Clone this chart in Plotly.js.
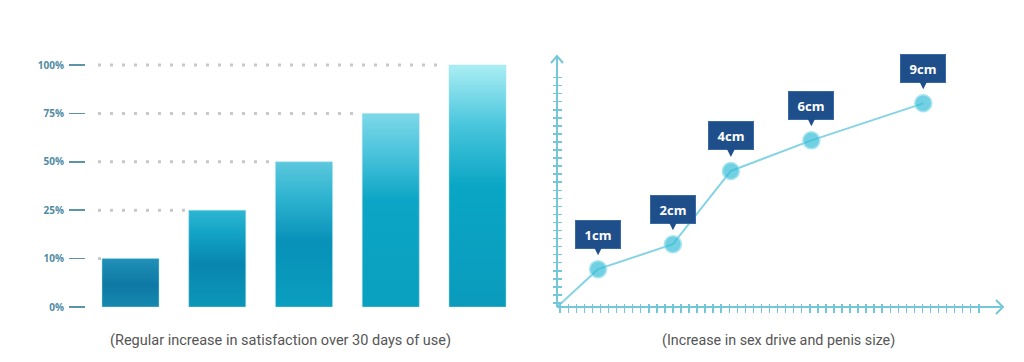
<!DOCTYPE html>
<html><head><meta charset="utf-8">
<script src="https://cdn.plot.ly/plotly-3.0.1.min.js"></script>
<style>html,body{margin:0;padding:0;background:#fff}#chart{width:1024px;height:362px}</style>
</head><body><div id="chart"></div>
<script>
// ---- data ----
const satisfactionTickLabels = ['0%','10%','25%','50%','75%','100%'];
const satisfactionTickValues = [0,10,25,50,75,100];
const satisfactionStages = ['Stage 1','Stage 2','Stage 3','Stage 4','Stage 5'];
const satisfactionValues = [10,25,50,75,100];
const growthX = [5.1,14.4,21.6,31.6,45.5];
const growthY = [4.7,7.8,16.9,20.7,25.3];
const growthLabels = ['1cm','2cm','4cm','6cm','9cm'];
const captionLeft = '(Regular increase in satisfaction over 30 days of use)';
const captionRight = '(Increase in sex drive and penis size)';

// ---- styles ----
const W = 1024, H = 362;
const px = v => v / W, py = v => (H - v) / H;
const barWidth = 0.657;
const gridStart = -0.375;
const barScales = [
  [[0,'#1589b0'],[0.45,'#0d78a4'],[1,'#2190b8']],
  [[0,'#0c96b8'],[0.45,'#0886b0'],[0.75,'#12a2c5'],[1,'#2eb6d2']],
  [[0,'#0a9ebf'],[0.45,'#0891b9'],[0.75,'#2db3d0'],[1,'#5cc8dd']],
  [[0,'#0aa0c0'],[0.55,'#0ca5c5'],[0.8,'#4cc4dc'],[1,'#7dd8e8']],
  [[0,'#0a9bbd'],[0.5,'#0aa6c5'],[0.75,'#48c5dc'],[1,'#abeef4']]
];
const axisTeal = '#74c7d8';

const posOf = v => satisfactionTickValues.indexOf(v);
const traces = [];

// dotted guide lines, each stopping at the bar that reaches it
satisfactionTickValues.forEach((v, k) => {
  if (v === 0) return;
  const barIdx = satisfactionValues.indexOf(v);
  const end = (barIdx >= 0 ? barIdx : satisfactionStages.length) - barWidth / 2 - 0.04;
  traces.push({
    type: 'scatter', mode: 'lines', xaxis: 'x', yaxis: 'y', hoverinfo: 'skip', showlegend: false,
    x: [gridStart, Math.max(end, gridStart + 0.035)], y: [posOf(v), posOf(v)],
    line: {color: '#c8c8c8', width: 3, dash: '3px,9px'}
  });
});

// bars with vertical gradients
satisfactionStages.forEach((s, i) => {
  const top = posOf(satisfactionValues[i]);
  const l = i - barWidth / 2, r = i + barWidth / 2;
  traces.push({
    type: 'scatter', mode: 'lines', xaxis: 'x', yaxis: 'y', name: s, showlegend: false,
    x: [l, r, r, l, l], y: [0, 0, top, top, 0],
    fill: 'toself', line: {width: 0.8, color: 'rgba(160,225,240,0.6)'},
    fillgradient: {type: 'vertical', colorscale: barScales[i]},
    hovertemplate: s + ': ' + satisfactionValues[i] + '%<extra></extra>'
  });
});

// growth line
traces.push({
  type: 'scatter', mode: 'lines+markers', xaxis: 'x2', yaxis: 'y2', showlegend: false,
  x: [0].concat(growthX), y: [0].concat(growthY),
  text: [''].concat(growthLabels),
  line: {color: '#86d4e3', width: 2},
  marker: {size: [0].concat(growthX.map(() => 17)), color: '#36bed8',
           line: {color: '#86dbec', width: 1.5}},
  hovertemplate: '%{text}<extra></extra>'
});

const annotations = growthLabels.map((t, i) => ({
  x: growthX[i], y: growthY[i], xref: 'x2', yref: 'y2', text: '<b>' + t + '</b>',
  showarrow: true, ax: 0, ay: -35, arrowhead: 2, arrowsize: 1, arrowwidth: 1.6,
  arrowcolor: '#1f4f8b', standoff: 14,
  bgcolor: '#1f4f8b', bordercolor: '#3a6aa6', borderwidth: 1, borderpad: 2,
  width: 40, height: 23,
  font: {family: 'Open Sans, sans-serif', size: 13, color: '#ffffff', weight: 700}
}));
annotations.push({
  xref: 'paper', yref: 'paper', x: px(280), y: py(340), xanchor: 'center', yanchor: 'middle',
  text: captionLeft, showarrow: false,
  font: {family: 'Roboto, sans-serif', size: 14.5, color: '#555555'}
});
annotations.push({
  xref: 'paper', yref: 'paper', x: px(778), y: py(340), xanchor: 'center', yanchor: 'middle',
  text: captionRight, showarrow: false,
  font: {family: 'Roboto, sans-serif', size: 14.3, color: '#555555'}
});

const shapes = [
  {type: 'line', xref: 'paper', yref: 'paper', x0: px(557), y0: py(307), x1: px(1001), y1: py(307),
   line: {color: axisTeal, width: 2}},
  {type: 'line', xref: 'paper', yref: 'paper', x0: px(557), y0: py(307), x1: px(557), y1: py(58),
   line: {color: axisTeal, width: 2}},
  {type: 'path', xref: 'paper', yref: 'paper',
   path: `M${px(551)},${py(63)} L${px(557)},${py(56)} L${px(563)},${py(63)}`,
   line: {color: axisTeal, width: 2}},
  {type: 'path', xref: 'paper', yref: 'paper',
   path: `M${px(996)},${py(300)} L${px(1003)},${py(307)} L${px(996)},${py(314)}`,
   line: {color: axisTeal, width: 2}}
];

const layout = {
  width: W, height: H, margin: {l: 0, r: 0, t: 0, b: 0},
  paper_bgcolor: '#ffffff', plot_bgcolor: 'rgba(0,0,0,0)', showlegend: false,
  xaxis: {domain: [px(86), px(520)], range: [-0.513, 4.49], anchor: 'y',
          showgrid: false, zeroline: false, showline: false, showticklabels: false, ticks: ''},
  yaxis: {domain: [py(307), py(60.16)], range: [0, 5.1], anchor: 'x',
          tickmode: 'array', tickvals: satisfactionTickValues.map((v, k) => k), ticktext: satisfactionTickLabels,
          ticks: 'outside', ticklen: 16, tickwidth: 1.5, tickcolor: '#5d93a8', ticklabelstandoff: 3,
          tickfont: {family: 'Open Sans, sans-serif', size: 10, color: '#4f8ba3', weight: 700},
          showgrid: false, zeroline: false, showline: false},
  xaxis2: {domain: [px(557), px(980)], range: [0, 52.55], anchor: 'free', position: py(302.5),
           tickmode: 'linear', tick0: 2.4, dtick: 1, ticks: 'outside', ticklen: 9, tickwidth: 1.5,
           tickcolor: axisTeal, showticklabels: false, showgrid: false, zeroline: false, showline: false},
  yaxis2: {domain: [py(307), py(70)], range: [0, 29.44], anchor: 'free', position: px(561.5),
           tickmode: 'linear', tick0: 2.5, dtick: 1, ticks: 'outside', ticklen: 9, tickwidth: 1.5,
           tickcolor: axisTeal, showticklabels: false, showgrid: false, zeroline: false, showline: false},
  annotations: annotations,
  shapes: shapes
};

Plotly.newPlot('chart', traces, layout, {displayModeBar: false, staticPlot: true});
</script>
</body></html>
